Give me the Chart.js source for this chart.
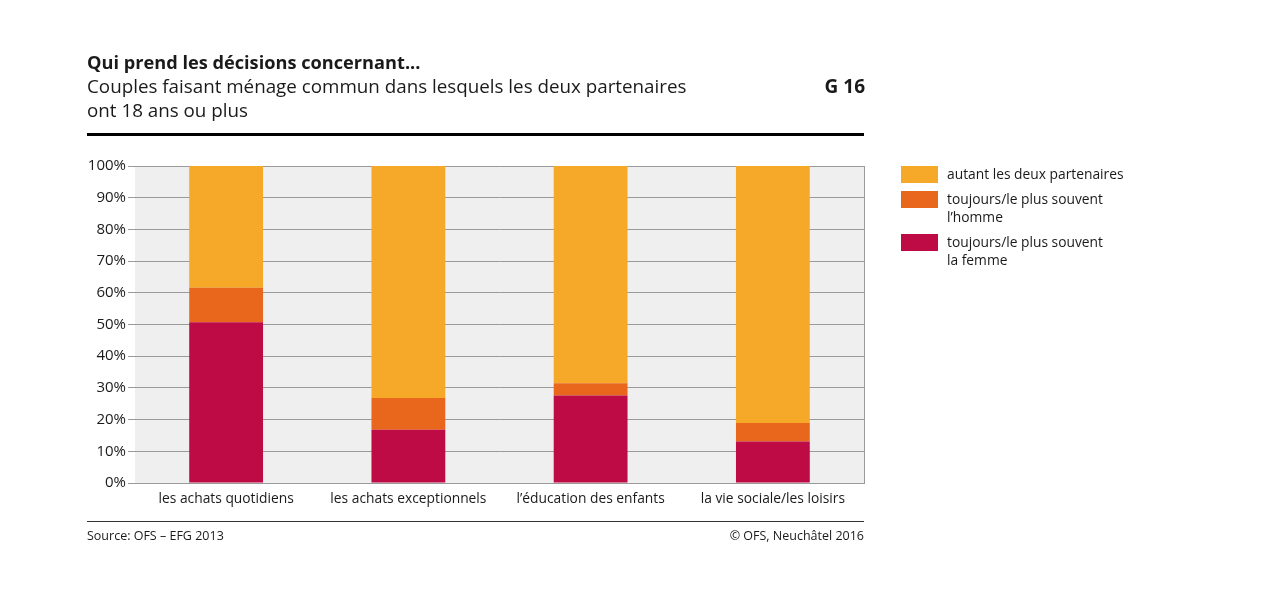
<!DOCTYPE html>
<html><head><meta charset="utf-8">
<script src="https://cdn.jsdelivr.net/npm/chart.js@4"></script>
<style>
html,body{margin:0;padding:0;background:#fff;width:1280px;height:616px;overflow:hidden;font-family:"Open Sans",sans-serif;color:#1a1a1a}
#wrap{position:relative;width:1280px;height:616px}
canvas{position:absolute;left:0;top:0}
.t{position:absolute;white-space:nowrap}
.leg{position:absolute;left:901px;width:37px;height:17px}
.lt{position:absolute;left:947px;font-size:13.8px;line-height:18px;color:#1a1a1a}
</style></head><body>
<div id="wrap">
<canvas id="c" width="1280" height="616"></canvas>
<div class="t" style="left:87px;top:50px;font-size:18.2px;font-weight:700">Qui prend les décisions concernant...</div>
<div class="t" style="left:87px;top:73px;font-size:18.8px">Couples faisant ménage commun dans lesquels les deux partenaires</div>
<div class="t" style="left:87px;top:97px;font-size:18.8px">ont 18 ans ou plus</div>
<div class="t" style="right:415px;top:73px;font-size:19px;font-weight:700">G 16</div>
<div style="position:absolute;left:87px;top:133px;width:777px;height:3px;background:#000"></div>
<div style="position:absolute;left:87px;top:521px;width:777px;height:1px;background:#333"></div>
<div class="t" style="left:87px;top:527px;font-size:12.5px">Source: OFS – EFG 2013</div>
<div class="t" style="right:416px;top:527px;font-size:12.5px">© OFS, Neuchâtel 2016</div>
<div class="leg" style="top:166px;background:#F6A828"></div>
<div class="lt" style="top:165px">autant les deux partenaires</div>
<div class="leg" style="top:191px;background:#E8671C"></div>
<div class="lt" style="top:190px">toujours/le plus souvent<br>l’homme</div>
<div class="leg" style="top:234px;background:#BE0A45"></div>
<div class="lt" style="top:233px">toujours/le plus souvent<br>la femme</div>
</div>
<script>
const categories = ["les achats quotidiens","les achats exceptionnels","l’éducation des enfants","la vie sociale/les loisirs"];
const femme = [50.7, 16.8, 27.6, 13.1];
const homme = [10.9, 10.0, 3.9, 5.8];
const autant = [38.4, 73.2, 68.5, 81.1];
const yTicks = [0,10,20,30,40,50,60,70,80,90,100];

const bgPlugin = {
  id:'bg',
  beforeDraw(chart){
    const {ctx, chartArea:a} = chart;
    ctx.save();
    ctx.fillStyle = '#efefef';
    ctx.fillRect(a.left, a.top, a.right-a.left, a.bottom-a.top);
    ctx.restore();
  },
  afterDraw(chart){
    const {ctx, chartArea:a} = chart;
    ctx.save();
    ctx.strokeStyle = '#9a9a9a';
    ctx.lineWidth = 1;
    ctx.beginPath();
    ctx.moveTo(Math.round(a.right)+0.5, a.top);
    ctx.lineTo(Math.round(a.right)+0.5, a.bottom);
    ctx.stroke();
    ctx.restore();
  }
};

new Chart(document.getElementById('c'), {
  type:'bar',
  data:{
    labels: categories,
    datasets:[
      {label:'toujours/le plus souvent la femme', data:femme, backgroundColor:'#BE0A45'},
      {label:'toujours/le plus souvent l’homme', data:homme, backgroundColor:'#E8671C'},
      {label:'autant les deux partenaires', data:autant, backgroundColor:'#F6A828'}
    ]
  },
  options:{
    responsive:false,
    animation:false,
    devicePixelRatio:1,
    layout:{padding:{left:75, top:166, right:416, bottom:103}},
    plugins:{legend:{display:false}, tooltip:{enabled:false}},
    datasets:{bar:{categoryPercentage:1, barPercentage:0.405, borderWidth:0}},
    scales:{
      x:{
        stacked:true,
        grid:{display:false, drawTicks:false},
        border:{display:true, color:'#9a9a9a'},
        ticks:{color:'#1a1a1a', font:{family:'Open Sans', size:13.8}, padding:8, maxRotation:0, autoSkip:false},
        afterFit(s){ s.height = 30; }
      },
      y:{
        stacked:true, min:0, max:100,
        afterBuildTicks(s){ s.ticks = yTicks.map(v=>({value:v})); },
        grid:{color:'#9a9a9a', tickLength:7, lineWidth:1, z:0},
        border:{display:false},
        ticks:{color:'#1a1a1a', font:{family:'Open Sans', size:15}, padding:2, callback:v=>v+'%'},
        afterFit(s){ s.width = 60; }
      }
    }
  },
  plugins:[bgPlugin]
});
</script>
</body></html>
